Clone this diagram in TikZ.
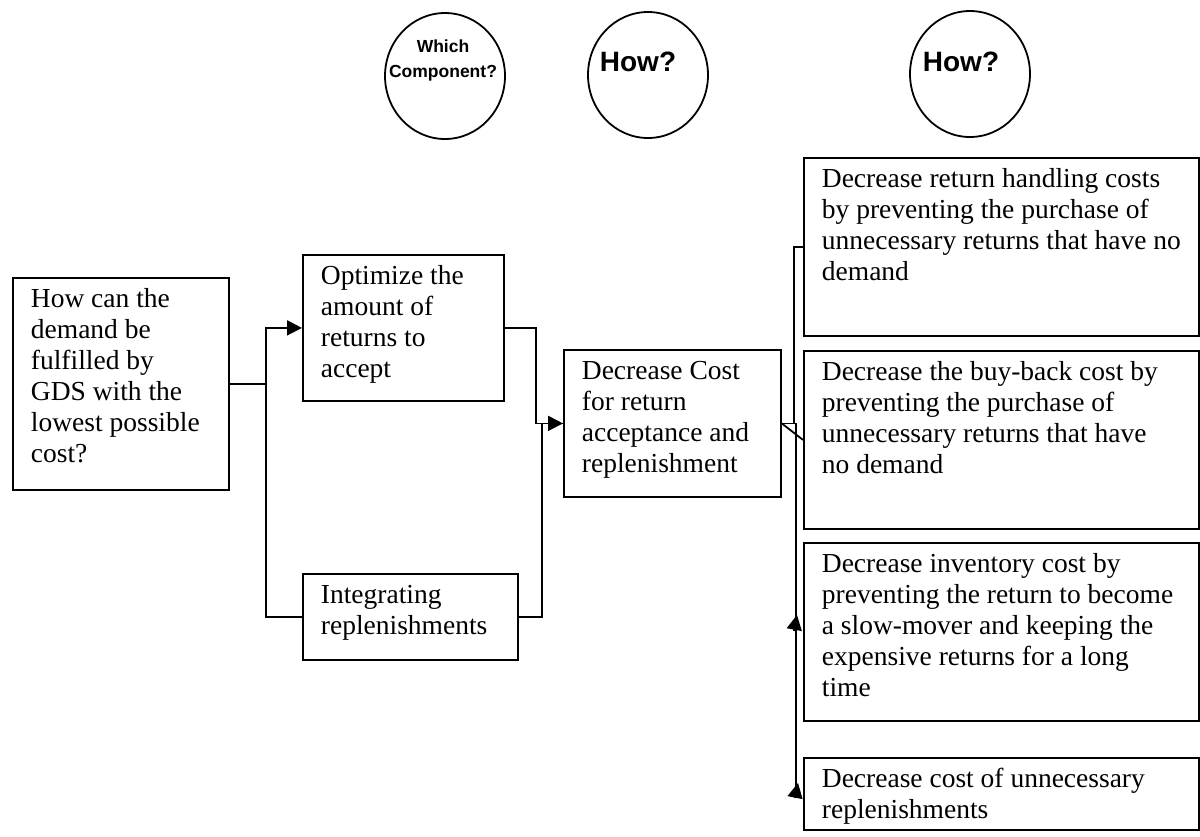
\documentclass[tikz,border=0pt]{standalone}
\usepackage{fontspec}
\setmainfont{Liberation Serif}
\newfontfamily\headfont{Liberation Sans}
\usetikzlibrary{arrows.meta,shapes.geometric,calc}

% top-aligned text block of a box: #1 outer width, #2 outer height (pt)
\newcommand\bx[3]{\begin{minipage}[c][\dimexpr#2pt-16pt\relax][t]{\dimexpr#1pt-36pt\relax}\raggedright\strut#3\end{minipage}}
% a line of box text that must not be broken
\newcommand\wline[1]{\mbox{#1}}

\tikzset{
  tbox/.style={draw, line width=1.8pt, anchor=north west, inner ysep=8pt,
    inner xsep=18pt, font=\fontsize{27.5}{31}\selectfont},
  qbubble/.style={draw, ellipse, line width=1.8pt, minimum width=120pt,
    minimum height=126pt, inner sep=0pt},
  qtext/.style={font=\headfont\bfseries\fontsize{28}{30}\selectfont},
  conn/.style={line width=1.8pt},
  arr/.style={-{Triangle[length=15pt,width=15pt]}},
}

\begin{document}
\hfuzz=40pt
\begin{tikzpicture}[x=1pt,y=-1pt]
\useasboundingbox (0,0) rectangle (1200,836);

% question bubbles
\node[qbubble] (e1) at (445,76) {};
\node[qbubble] (e2) at (648,75) {};
\node[qbubble] (e3) at (970,74) {};
\node[qtext, font=\headfont\bfseries\fontsize{17.5}{25}\selectfont, align=center] (t1) at (443,60) {Which\\Component?};
\node[qtext] (t2) at (638,62) {How?};
\node[qtext] (t3) at (961,62) {How?};

% boxes
\node[tbox] (q) at (12,277) {\bx{216}{212}{How can the\\demand be\\fulfilled by\\GDS with the\\lowest possible\\cost?}};
\node[tbox] (opt) at (302,254) {\bx{201}{146}{Optimize the\\amount of\\returns to\\accept}};
\node[tbox] (integ) at (302,573) {\bx{215}{86}{Integrating\\replenishments}};
\node[tbox] (dec) at (563,349) {\bx{217}{147}{Decrease Cost\\for return\\acceptance and\\replenishment}};
\node[tbox] (r1) at (803,157) {\bx{395}{178}{\wline{Decrease return handling costs}\\\wline{by preventing the purchase of}\\\wline{unnecessary returns that have no}\\demand}};
\node[tbox] (r2) at (803,350) {\bx{395}{178}{\wline{Decrease the buy-back cost by}\\\wline{preventing the purchase of}\\\wline{unnecessary returns that have}\\no demand}};
\node[tbox] (r3) at (803,542) {\bx{395}{178}{\wline{Decrease inventory cost by}\\\wline{preventing the return to become}\\\wline{a slow-mover and keeping the}\\\wline{expensive returns for a long}\\time}};
\node[tbox] (r4) at (803,757) {\bx{395}{72}{\wline{Decrease cost of unnecessary}\\replenishments}};

% connectors from the question to its components
\draw[conn, arr] (q.east) -- ++(36,0) coordinate (qb) |- (opt.west);
\draw[conn] (qb) |- (integ.west);

% components to the cost goal
\draw[conn, arr] (opt.east) -- ++(31,0) |- (dec.west);
\draw[conn] (integ.east) -- ++(23,0) |- (dec.west);

% cost goal to the four measures
\draw[conn] (dec.east) -- ++(12,0) |- (r1.west);
\draw[conn] (dec.east) -- (r2.west);
\draw[conn] (dec.east) -- ++(14,0) coordinate (db) -- (db |- r4.west);
\draw[conn, arr] ($(r3.west)+(-9,-1)$) -- ($(r3.west)+(-6,-17)$);
\draw[conn, arr] ($(r4.west)+(-8,4)$) -- ($(r4.west)+(-5,-11)$);
\end{tikzpicture}
\end{document}
